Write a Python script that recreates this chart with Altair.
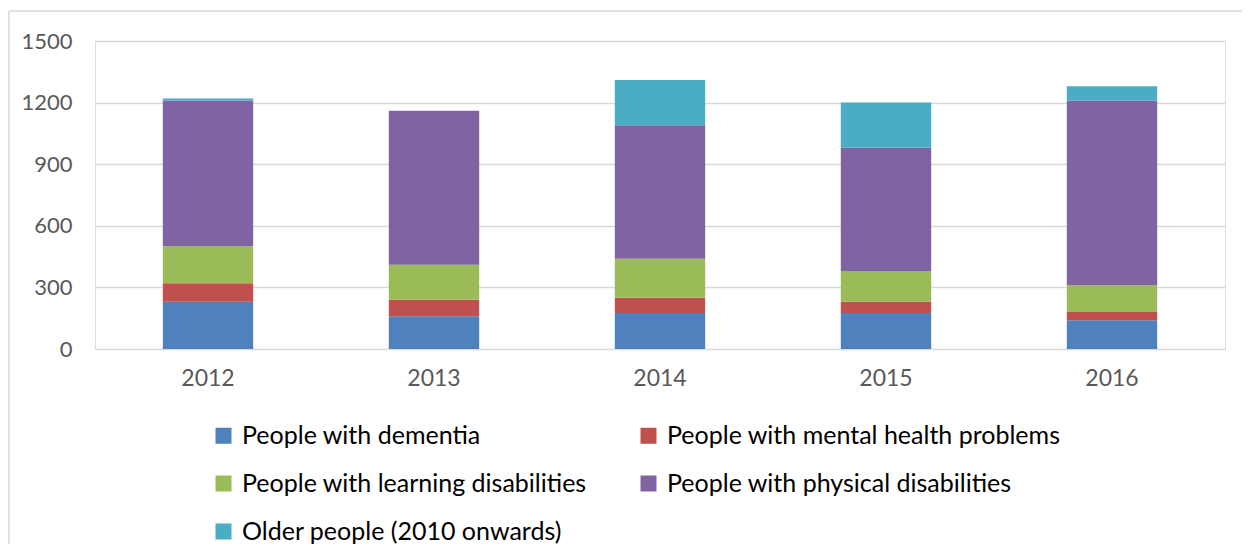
import altair as alt
import pandas as pd

years = ["2012", "2013", "2014", "2015", "2016"]
groups = [
    "People with dementia",
    "People with mental health problems",
    "People with learning disabilities",
    "People with physical disabilities",
    "Older people (2010 onwards)",
]
dementia = [230, 160, 175, 175, 140]
mental = [90, 80, 75, 55, 40]
learning = [180, 170, 190, 150, 130]
physical = [710, 750, 650, 600, 900]
older = [10, 0, 220, 220, 70]
colors = ["#4f81bd", "#c0504d", "#9bbb59", "#8064a2", "#4bacc6"]
y_ticks = [0, 300, 600, 900, 1200, 1500]

series = [dementia, mental, learning, physical, older]
rows = []
for gi, (g, vals) in enumerate(zip(groups, series)):
    for y, v in zip(years, vals):
        rows.append({"year": y, "group": g, "value": v, "idx": gi})
df = pd.DataFrame(rows)

FONT = "Lato"
W, H = 1130, 308
PAD = {"left": 87, "top": 33, "right": 17, "bottom": 195}

bars = alt.Chart(df).mark_bar().encode(
    x=alt.X(
        "year:N",
        sort=years,
        scale=alt.Scale(paddingInner=0.6, paddingOuter=0.3),
        axis=alt.Axis(
            title=None, labelAngle=0, ticks=False, domain=False, grid=False,
            labelFontSize=23, labelColor="#595959", labelFont=FONT, labelPadding=18,
        ),
    ),
    y=alt.Y(
        "value:Q",
        stack="zero",
        scale=alt.Scale(domain=[0, 1500], nice=False),
        axis=alt.Axis(
            values=y_ticks, title=None, ticks=False, domain=False, format="d",
            gridColor="#d9d9d9", gridWidth=1.5,
            labelFontSize=22, labelColor="#595959", labelFont=FONT, labelPadding=23,
        ),
    ),
    color=alt.Color(
        "group:N",
        scale=alt.Scale(domain=groups, range=colors),
        legend=alt.Legend(
            title=None, orient="none", legendX=116, legendY=382, columns=2,
            direction="horizontal",
            symbolType="square", symbolSize=256, symbolStrokeWidth=0,
            labelFontSize=25, labelFont=FONT, labelColor="#000000",
            labelOffset=6, columnPadding=49, rowPadding=22, labelLimit=0, padding=0,
        ),
    ),
    order=alt.Order("idx:Q", sort="ascending"),
)

one = pd.DataFrame({"k": [0]})
top_edge = alt.Chart(one).mark_rule(stroke="#d9d9d9", strokeWidth=1.5).encode(
    x=alt.value(-PAD["left"] + 1),
    x2=alt.value(W + PAD["right"]),
    y=alt.value(-PAD["top"] + 3),
)
left_edge = alt.Chart(one).mark_rule(stroke="#d9d9d9", strokeWidth=1.5).encode(
    x=alt.value(-PAD["left"] + 1),
    y=alt.value(-PAD["top"] + 3),
    y2=alt.value(H + PAD["bottom"]),
)

chart = alt.layer(top_edge, left_edge, bars).properties(
    width=W, height=H,
    padding=PAD,
    autosize=alt.AutoSizeParams(type="none"),
).configure_view(stroke=None).configure(background="white")

chart.save("out.html", embed_options={"renderer": "svg", "actions": False})
